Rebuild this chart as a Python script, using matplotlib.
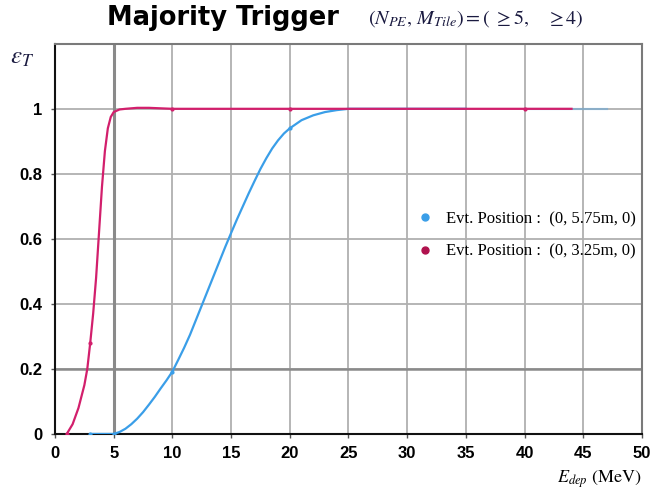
import matplotlib
matplotlib.use("Agg")
import matplotlib.pyplot as plt

plt.rcParams["mathtext.fontset"] = "stix"

# trigger efficiency vs deposited energy, two event positions
e_far = [3, 5, 5.5, 6, 6.5, 7, 7.5, 8, 8.5, 9, 9.5, 10, 10.5, 11, 11.5, 12,
         12.5, 13, 13.5, 14, 14.5, 15, 15.5, 16, 16.5, 17, 17.5, 18, 18.5,
         19, 19.5, 20, 21, 22, 23, 24, 25, 30, 35, 40, 44, 47]
eff_far = [0, 0, 0.006, 0.016, 0.03, 0.047, 0.067, 0.09, 0.114, 0.14, 0.165,
           0.192, 0.228, 0.265, 0.305, 0.35, 0.395, 0.44, 0.485, 0.53, 0.575,
           0.618, 0.66, 0.70, 0.74, 0.778, 0.815, 0.848, 0.878, 0.903, 0.924,
           0.94, 0.965, 0.98, 0.99, 0.996, 1.0, 1.0, 1.0, 1.0, 1.0, 1.0]

e_near = [1.0, 1.5, 2.0, 2.5, 2.75, 3.0, 3.25, 3.5, 3.75, 4.0, 4.25, 4.5,
          4.75, 5.0, 5.5, 6, 7, 8, 10, 15, 20, 30, 40, 44]
eff_near = [0, 0.03, 0.08, 0.15, 0.2, 0.28, 0.37, 0.48, 0.62, 0.76, 0.87,
            0.94, 0.975, 0.99, 0.998, 1.0, 1.003, 1.003, 1.0, 1.0, 1.0, 1.0,
            1.0, 1.0]

x_ticks = [0, 5, 10, 15, 20, 25, 30, 35, 40, 45, 50]
y_ticks = [0, 0.2, 0.4, 0.6, 0.8, 1.0]
y_tick_labels = ["0", "0.2", "0.4", "0.6", "0.8", "1"]

label_far = "Evt. Position :  (0, 5.75m, 0)"
label_near = "Evt. Position :  (0, 3.25m, 0)"

BLUE = "#3a9ee8"
MAGENTA = "#d21f6c"

fig = plt.figure(figsize=(6.58, 4.92), dpi=100)
ax = fig.add_axes([0.0836, 0.118, 0.892, 0.793])

ax.set_xlim(0, 50)
ax.set_ylim(0, 1.2)
ax.set_xticks(x_ticks)
ax.set_yticks(y_ticks)
ax.set_yticklabels(y_tick_labels)
ax.grid(True, color="#b0b0b0", linewidth=1.3)
ax.set_axisbelow(True)
# threshold lines drawn darker
ax.axvline(5, color="#8a8a8a", linewidth=2.2, zorder=1)
ax.axhline(0.2, color="#8a8a8a", linewidth=1.8, zorder=1)

for side in ["top", "right"]:
    ax.spines[side].set_color("#7a7a7a")
    ax.spines[side].set_linewidth(1.5)
for side in ["left", "bottom"]:
    ax.spines[side].set_color("#111111")
    ax.spines[side].set_linewidth(1.5)

ax.tick_params(axis="both", length=3, width=1, color="#555555", pad=6)
for lab in ax.get_xticklabels() + ax.get_yticklabels():
    lab.set_fontweight("bold")
    lab.set_fontsize(12)
    lab.set_family("Liberation Sans")

ax.plot(e_far[:-3], eff_far[:-3], color=BLUE, linewidth=1.6, zorder=3,
        marker="o", markersize=2, markevery=[0, 1, 11, 31],
        label=label_far)
ax.plot(e_far[-3:], eff_far[-3:], color=BLUE, alpha=0.35, linewidth=1.6,
        zorder=2)
ax.plot(e_near, eff_near, color=MAGENTA, linewidth=1.6, zorder=4,
        marker="o", markersize=2, markevery=[0, 5, 18, 20, 22],
        label=label_near)

# legend with round dot handles, no frame
h_far = plt.Line2D([], [], color=BLUE, marker="o", linestyle="none", markersize=5)
h_near = plt.Line2D([], [], color="#b0124e", marker="o", linestyle="none", markersize=5)
ax.legend([h_far, h_near], [label_far, label_near], loc="center left",
          bbox_to_anchor=(0.576, 0.509), frameon=False, handletextpad=0.3,
          labelspacing=0.98, prop={"family": "Liberation Serif", "size": 12})

fig.text(0.162, 0.963, "Majority Trigger", fontsize=18.5, fontweight="heavy",
         family="DejaVu Sans", va="center")
fig.text(0.559, 0.963, r"$(N_{PE},\, M_{Tile}) = (\ \geq 5,\ \ \ \geq 4)$",
         fontsize=14.5, va="center", color="#1a1a40")
fig.text(0.015, 0.885, r"$\epsilon_T$", fontsize=18, va="center",
         color="#1a1a40")
fig.text(0.975, 0.025, r"$E_{dep}$ (MeV)", fontsize=13, ha="right",
         va="center", family="STIXGeneral")

fig.savefig("out.png", dpi=100)
